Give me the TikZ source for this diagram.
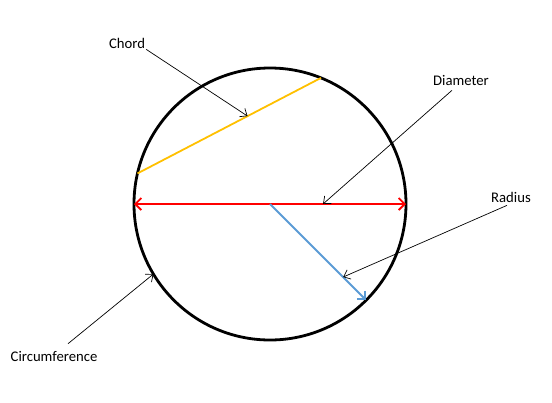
\documentclass[tikz,border=0pt]{standalone}
\usepackage{fontspec}
\setmainfont{Carlito}
\usepackage{xcolor}
\usepackage{tikz}
\usetikzlibrary{arrows.meta,positioning}
\tikzset{>={Straight Barb[length=6pt,width=12pt]}}
\definecolor{chordcol}{HTML}{FFC000}
\definecolor{radcol}{HTML}{5B9BD5}

\begin{document}
\begin{tikzpicture}[x=1pt,y=-1pt,
                          rim/.style={circle, draw=black, line width=2.8pt, minimum size=272pt, inner sep=0pt, outer sep=0pt},
                          chordline/.style={line width=1.8pt, chordcol},
                          diamline/.style={line width=1.8pt, red, <->},
                          radline/.style={line width=1.8pt, radcol, ->},
                          pointer/.style={line width=0.7pt, black, ->, >={Straight Barb[length=6pt,width=10pt]}},
                          lbl/.style={inner sep=1pt, font=\fontsize{14.7}{17}\selectfont},
                         ]

\useasboundingbox (0,0) rectangle (552,402);

\node[rim] (circ) at (270,204) {};
\coordinate (c) at (circ.center);

\draw[chordline] (circ.167.4) -- (circ.68) coordinate[pos=0.6] (chordmid);
\draw[diamline] (circ.west) -- (circ.east) coordinate[pos=0.695] (diammid);
\draw[radline] (c) -- (circ.-45) coordinate[pos=0.76] (radmid);

\node[lbl] (chordlbl) at (127,43) {Chord};
\node[lbl] (diamlbl) at (461,80) {Diameter};
\node[lbl] (radlbl) at (511,197) {Radius};
\node[lbl] (circlbl) at (54,356) {Circumference};

\draw[pointer] (chordlbl.south east) -- (chordmid);
\draw[pointer] ([xshift=-9pt,yshift=-4pt]diamlbl.south) -- (diammid);
\draw[pointer] ([xshift=-4pt,yshift=-2pt]radlbl.south) -- (radmid);
\draw[pointer] ([xshift=14pt,yshift=6pt]circlbl.north) -- (circ.211);

\end{tikzpicture}
\end{document}
